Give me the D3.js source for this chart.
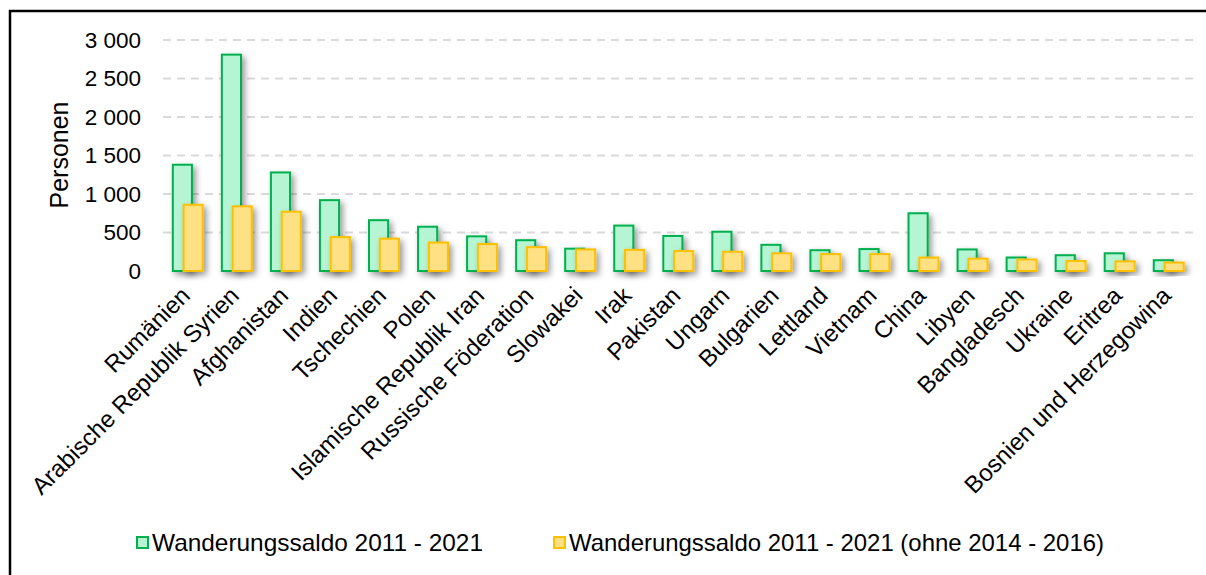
<!DOCTYPE html>
<html><head><meta charset="utf-8">
<script src="https://cdn.jsdelivr.net/npm/d3@7"></script>
<style>
html,body{margin:0;padding:0;background:#fff;}
svg{display:block;font-family:"Liberation Sans",Arial,sans-serif;}
</style></head>
<body>
<svg id="c" width="1206" height="575"></svg>
<script>
const categories = ["Rumänien","Arabische Republik Syrien","Afghanistan","Indien","Tschechien","Polen","Islamische Republik Iran","Russische Föderation","Slowakei","Irak","Pakistan","Ungarn","Bulgarien","Lettland","Vietnam","China","Libyen","Bangladesch","Ukraine","Eritrea","Bosnien und Herzegowina"];
const saldoAll = [1380,2810,1280,920,660,575,450,400,290,590,455,510,340,270,285,750,280,175,205,230,140];
const saldoOhne = [860,840,770,440,420,370,350,310,280,275,260,250,230,220,220,175,160,150,130,125,110];
const yTicks = [0,500,1000,1500,2000,2500,3000];
const seriesNames = ["Wanderungssaldo 2011 - 2021","Wanderungssaldo 2011 - 2021 (ohne 2014 - 2016)"];

const svg = d3.select("#c");
const defs = svg.append("defs");
const f = defs.append("filter").attr("id","sh").attr("x","-30%").attr("y","-30%").attr("width","180%").attr("height","180%");
f.append("feDropShadow").attr("dx",3).attr("dy",3).attr("stdDeviation",3).attr("flood-color","#000").attr("flood-opacity",0.4);

// frame
svg.append("rect").attr("x",10).attr("y",11).attr("width",1210).attr("height",600)
  .attr("fill","none").attr("stroke","#000").attr("stroke-width",2.5);

const x = d3.scaleBand().domain(categories).range([163,1193]).padding(0);
const y = d3.scaleLinear().domain([0,3000]).range([271,40]);
const bw = x.bandwidth();

// gridlines
svg.append("g").selectAll("line").data(yTicks.filter(d=>d>0)).join("line")
  .attr("x1",163).attr("x2",1193).attr("y1",d=>y(d)).attr("y2",d=>y(d))
  .attr("stroke","#d9d9d9").attr("stroke-width",2).attr("stroke-dasharray","8,6");

// y tick labels
const fmt = d => d3.format(",")(d).replace(/,/g," ");
svg.append("g").selectAll("text").data(yTicks).join("text")
  .attr("x",141).attr("y",d=>y(d)).attr("dy","0.35em").attr("text-anchor","end")
  .attr("font-size",22.5).attr("fill","#000").text(fmt);

// y axis title
svg.append("text").attr("transform","translate(68,155) rotate(-90)").attr("text-anchor","middle")
  .attr("font-size",25).attr("fill","#000").text("Personen");

// baseline
svg.append("line").attr("x1",163).attr("x2",1193).attr("y1",y(0)+1).attr("y2",y(0)+1)
  .attr("stroke","#d0d0d0").attr("stroke-width",3).attr("filter","url(#sh)");

const bw0 = bw*0.39;
const gX = c => x(c) + bw*0.2;
const oX = c => x(c) + bw*0.42;

// green bars
svg.append("g").selectAll("rect").data(categories).join("rect")
  .attr("x",(c)=>gX(c)).attr("width",bw0)
  .attr("y",(c,i)=>y(saldoAll[i])).attr("height",(c,i)=>y(0)-y(saldoAll[i]))
  .attr("fill","#b6f5d3").attr("stroke","#00b050").attr("stroke-width",2).attr("filter","url(#sh)");
// yellow bars
svg.append("g").selectAll("rect").data(categories).join("rect")
  .attr("x",(c)=>oX(c)).attr("width",bw0)
  .attr("y",(c,i)=>y(saldoOhne[i])).attr("height",(c,i)=>y(0)-y(saldoOhne[i]))
  .attr("fill","#ffe083").attr("stroke","#ffc000").attr("stroke-width",2).attr("filter","url(#sh)");

// category labels
svg.append("g").selectAll("text").data(categories).join("text")
  .attr("transform",c=>`translate(${x(c)+bw/2+4},${297}) rotate(-45)`)
  .attr("text-anchor","end")
  .attr("font-size",24).attr("fill","#000").text(c=>c);

// legend
const legendItems = [
  {name:seriesNames[0], fill:"#b6f5d3", stroke:"#00b050", x:137, len:331},
  {name:seriesNames[1], fill:"#ffe083", stroke:"#ffc000", x:554, len:535}
];
const lg = svg.append("g").selectAll("g").data(legendItems).join("g");
lg.append("rect").attr("x",d=>d.x).attr("y",537).attr("width",11).attr("height",11)
  .attr("fill",d=>d.fill).attr("stroke",d=>d.stroke).attr("stroke-width",2);
lg.append("text").attr("x",d=>d.x+15).attr("y",543).attr("dy","0.35em")
  .attr("font-size",24).attr("fill","#000")
  .attr("textLength",d=>d.len).attr("lengthAdjust","spacingAndGlyphs").text(d=>d.name);
</script>
</body></html>
